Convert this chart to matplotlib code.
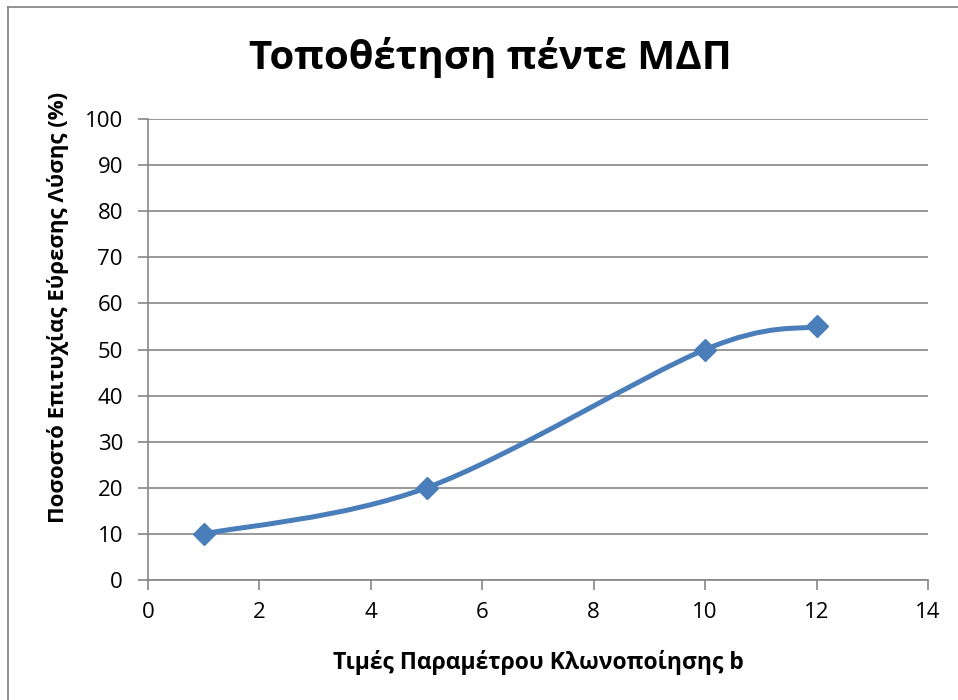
import matplotlib
matplotlib.use("Agg")
import matplotlib.pyplot as plt
from matplotlib.path import Path
from matplotlib.patches import PathPatch
from matplotlib.lines import Line2D

plt.rcParams['font.family'] = ['Open Sans', 'DejaVu Sans']

# data
b_values = [1, 5, 10, 12]
success_rate = [10, 20, 50, 55]

title = 'Τοποθέτηση πέντε ΜΔΠ'
xlabel = 'Τιμές Παραμέτρου Κλωνοποίησης b'
ylabel = 'Ποσοστό Επιτυχίας Εύρεσης Λύσης (%)'

line_color = '#4A7EBB'
grid_color = '#868686'


def smooth_path(xs, ys):
    # Excel-style smoothed line: cubic Bezier segments through the points
    pts = list(zip(xs, ys))
    n = len(pts)
    verts = [pts[0]]
    codes = [Path.MOVETO]
    for i in range(n - 1):
        p0 = pts[i - 1] if i > 0 else pts[i]
        p1 = pts[i]
        p2 = pts[i + 1]
        p3 = pts[i + 2] if i + 2 < n else pts[i + 1]
        c1 = (p1[0] + (p2[0] - p0[0]) / 6, p1[1] + (p2[1] - p0[1]) / 6)
        c2 = (p2[0] - (p3[0] - p1[0]) / 6, p2[1] - (p3[1] - p1[1]) / 6)
        verts += [c1, c2, p2]
        codes += [Path.CURVE4] * 3
    return Path(verts, codes)


fig = plt.figure(figsize=(9.58, 7.0), dpi=100)
ax = fig.add_axes([148 / 958, 120 / 700, 780 / 958, 461 / 700])

ax.add_patch(PathPatch(smooth_path(b_values, success_rate), facecolor='none',
                       edgecolor=line_color, lw=3.6, zorder=3, capstyle='round'))
ax.plot(b_values, success_rate, linestyle='none', marker='D', markersize=11.5,
        color=line_color, zorder=4)

ax.set_xlim(0, 14)
ax.set_ylim(0, 100)
ax.set_xticks(range(0, 15, 2))
ax.set_yticks(range(0, 101, 10))
ax.yaxis.grid(True, color=grid_color, lw=1.2)
ax.set_axisbelow(True)

for s in ['top', 'right']:
    ax.spines[s].set_visible(False)
for s in ['left', 'bottom']:
    ax.spines[s].set_color(grid_color)
    ax.spines[s].set_linewidth(1.2)

ax.tick_params(axis='both', direction='out', length=7, width=1.2, color=grid_color,
               labelsize=16, labelcolor='black')
ax.tick_params(axis='x', pad=9)
ax.tick_params(axis='y', pad=11)

ax.set_xlabel(xlabel, fontsize=16.5, fontweight='bold', labelpad=19)
ax.set_ylabel(ylabel, fontsize=16, fontweight='bold')
ax.yaxis.set_label_coords(-79 / 780, (580 - 307) / 461)
fig.text(490 / 958, 1 - 58 / 700, title, fontsize=29, fontweight='bold',
         ha='center', va='center')

# chart border (left and top visible)
fig.add_artist(Line2D([8 / 958, 8 / 958], [0, 1 - 7 / 700], color='#808080', lw=1.2,
                      transform=fig.transFigure))
fig.add_artist(Line2D([8 / 958, 1], [1 - 7 / 700, 1 - 7 / 700], color='#808080', lw=1.2,
                      transform=fig.transFigure))

fig.savefig('out.png', dpi=100)
